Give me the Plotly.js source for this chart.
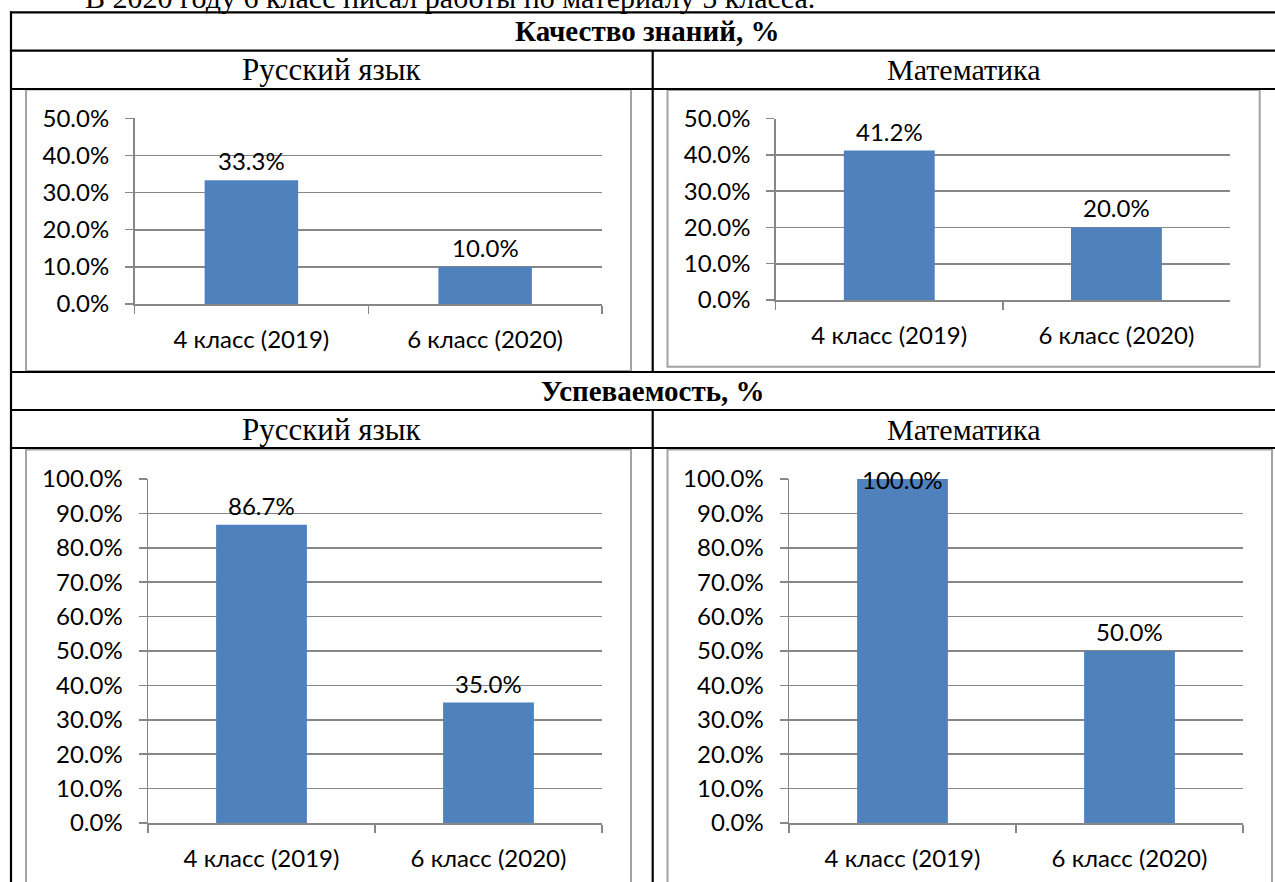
<!DOCTYPE html>
<html><head><meta charset="utf-8">
<script src="https://cdn.plot.ly/plotly-3.0.1.min.js"></script>
<style>html,body{margin:0;padding:0;background:#fff;overflow:hidden;} #chart{width:1275px;height:882px;}</style>
</head><body><div id="chart"></div>
<script>
// ---- data ----
const categories = ['4 класс (2019)', '6 класс (2020)'];
const qualityRussian = [0.333, 0.100];
const qualityMath = [0.412, 0.200];
const successRussian = [0.867, 0.350];
const successMath = [1.000, 0.500];
const sectionTitles = ['Качество знаний, %', 'Успеваемость, %'];
const subjectTitles = ['Русский язык', 'Математика'];
const introText = 'В 2020 году 6 класс писал работы по материалу 5 класса.';

// ---- layout helpers ----
const W = 1275, H = 882;
const px = v => v / W;
const py = v => 1 - v / H;
const gridColor = '#878787';
const barColor = '#4F81BD';
const labelFont = {family: 'Lato, "Open Sans", sans-serif', size: 24, color: '#000'};

const panels = [
  {values: qualityRussian, max: 0.5, x0: 134.5, x1: 602, yTop: 118.3, yBot: 304, frame: [26, 89.5, 631, 371]},
  {values: qualityMath, max: 0.5, x0: 775.7, x1: 1230, yTop: 118.7, yBot: 300, frame: [667.5, 90, 1259.7, 366.7]},
  {values: successRussian, max: 1.0, x0: 148, x1: 602, yTop: 479, yBot: 823, frame: [26, 449.5, 631, 900]},
  {values: successMath, max: 1.0, x0: 789, x1: 1243, yTop: 479, yBot: 823, frame: [667.5, 449.5, 1272, 900]}
];

const data = [];
const layout = {
  width: W, height: H,
  margin: {l: 0, r: 0, t: 0, b: 0},
  paper_bgcolor: '#fff', plot_bgcolor: 'rgba(0,0,0,0)',
  showlegend: false,
  bargap: 0.6,
  shapes: [], annotations: []
};

panels.forEach((p, i) => {
  const n = i === 0 ? '' : String(i + 1);
  const xa = 'x' + n, ya = 'y' + n;
  data.push({
    type: 'bar', x: categories, y: p.values, xaxis: xa, yaxis: ya,
    marker: {color: barColor}, hoverinfo: 'skip'
  });
  layout['xaxis' + n] = {
    domain: [px(p.x0), px(p.x1)], anchor: ya, type: 'category', range: [-0.5, 1.5],
    tickson: 'boundaries', ticks: 'outside', ticklen: 8, tickwidth: 1.5, tickcolor: gridColor,
    showline: true, linecolor: gridColor, linewidth: 1.5, showgrid: false, zeroline: false,
    tickfont: labelFont, ticklabelstandoff: 14, fixedrange: true
  };
  layout['yaxis' + n] = {
    domain: [py(p.yBot), py(p.yTop)], anchor: xa, range: [0, p.max], dtick: 0.1,
    tickformat: '.1%', ticks: 'outside', ticklen: 8, tickwidth: 1.5, tickcolor: gridColor,
    showline: true, linecolor: gridColor, linewidth: 1.5,
    showgrid: true, gridcolor: gridColor, gridwidth: 1.6, zeroline: false,
    tickfont: labelFont, ticklabelstandoff: 11, fixedrange: true
  };
  // chart frame
  layout.shapes.push({type: 'rect', xref: 'paper', yref: 'paper',
    x0: px(p.frame[0]), x1: px(p.frame[2]), y0: py(p.frame[3]), y1: py(p.frame[1]),
    line: {color: '#a3a3a3', width: 2}, fillcolor: 'rgba(0,0,0,0)', layer: 'below'});
  // data labels
  p.values.forEach((v, k) => {
    const atTop = v >= p.max * 0.97;
    layout.annotations.push({
      xref: xa, yref: ya, x: categories[k], y: v,
      text: (v * 100).toFixed(1) + '%', showarrow: false,
      yanchor: atTop ? 'middle' : 'bottom', yshift: atTop ? 0 : 3,
      font: labelFont
    });
  });
});

// table lines
const black = {color: '#000', width: 2.2};
function hline(y, xa, xb) { layout.shapes.push({type: 'line', xref: 'paper', yref: 'paper', x0: px(xa), x1: px(xb), y0: py(y), y1: py(y), line: black}); }
function vline(x, ya, yb) { layout.shapes.push({type: 'line', xref: 'paper', yref: 'paper', x0: px(x), x1: px(x), y0: py(ya), y1: py(yb), line: black}); }
[12.3, 50.7, 89, 372, 410, 448].forEach(y => hline(y, 10, 1280));
vline(11, 11.2, 890);
vline(652.7, 50.7, 372);
vline(652.7, 410, 890);

// table headings
const serif = 'Liberation Serif, "Times New Roman", serif';
function txt(t, x, y, size, bold) {
  layout.annotations.push({xref: 'paper', yref: 'paper', x: px(x), y: py(y), text: bold ? '<b>' + t + '</b>' : t,
    showarrow: false, xanchor: 'center', yanchor: 'middle', font: {family: serif, size: size, color: '#000'}});
}
txt(sectionTitles[0], 647, 31.5, 29, true);
txt(subjectTitles[0], 331.5, 70, 31, false);
txt(subjectTitles[1], 964, 70, 30, false);
txt(sectionTitles[1], 652, 391, 29, true);
txt(subjectTitles[0], 331.5, 429, 31, false);
txt(subjectTitles[1], 964, 429, 30, false);
// sentence above the table (cut by the top edge, as in the source)
layout.annotations.push({xref: 'paper', yref: 'paper', x: px(83), y: py(16), xanchor: 'left', yanchor: 'bottom',
  text: introText, showarrow: false, font: {family: serif, size: 30, color: '#000'}});

Plotly.newPlot('chart', data, layout, {displayModeBar: false, staticPlot: true});
</script></body></html>
